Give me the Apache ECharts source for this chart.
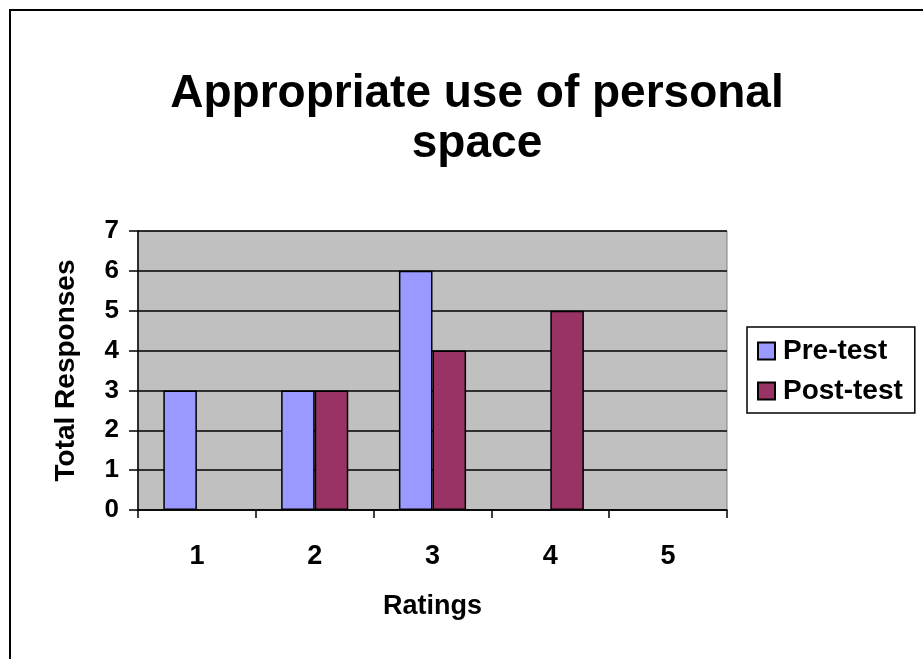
<!DOCTYPE html>
<html>
<head>
<meta charset="utf-8">
<script src="https://cdn.jsdelivr.net/npm/echarts@6/dist/echarts.min.js"></script>
<style>
html,body{margin:0;padding:0;background:#fff;}
#chart{width:923px;height:659px;}
</style>
</head>
<body>
<div id="chart"></div>
<script>
var categories = ['1', '2', '3', '4', '5'];
var preTest = [3, 3, 6, null, null];
var postTest = [null, 3, 4, 5, null];
var yTicks = [0, 1, 2, 3, 4, 5, 6, 7];

var FONT = '"Liberation Sans", Arial, sans-serif';
var chart = echarts.init(document.getElementById('chart'));
chart.setOption({
  animation: false,
  backgroundColor: '#ffffff',
  title: {
    text: 'Appropriate use of personal\nspace',
    left: 472,
    top: 64,
    textAlign: 'center',
    textStyle: {fontFamily: FONT, fontWeight: 'bold', fontSize: 46, lineHeight: 50, color: '#000'}
  },
  graphic: [{
    type: 'rect',
    shape: {x: 10, y: 10, width: 1000, height: 1000},
    style: {fill: 'none', stroke: '#000', lineWidth: 2},
    silent: true
  }],
  legend: {
    orient: 'vertical',
    left: 747,
    top: 327,
    padding: [10, 12, 8, 10],
    borderColor: '#000',
    borderWidth: 1.5,
    itemWidth: 17,
    itemHeight: 17,
    itemGap: 12,
    icon: 'rect',
    textStyle: {fontFamily: FONT, fontWeight: 'bold', fontSize: 28, lineHeight: 28, color: '#000', padding: [0, 0, 0, 3]},
    data: ['Pre-test', 'Post-test']
  },
  grid: {left: 138, top: 231, right: 196, bottom: 149, show: true, backgroundColor: '#C0C0C0', borderColor: '#808080', borderWidth: 1},
  xAxis: {
    type: 'category',
    data: categories,
    name: 'Ratings',
    nameLocation: 'middle',
    nameGap: 83,
    nameTextStyle: {fontFamily: FONT, fontWeight: 'bold', fontSize: 27, color: '#000'},
    axisLine: {lineStyle: {color: '#000', width: 1.5}},
    axisTick: {show: true, length: 8, lineStyle: {color: '#000', width: 1.5}},
    axisLabel: {margin: 33, fontFamily: FONT, fontWeight: 'bold', fontSize: 27, color: '#000'}
  },
  yAxis: {
    type: 'value',
    min: 0,
    max: 7,
    interval: 1,
    name: 'Total Responses',
    nameLocation: 'middle',
    nameGap: 58,
    nameTextStyle: {fontFamily: FONT, fontWeight: 'bold', fontSize: 28, color: '#000'},
    axisLine: {show: true, lineStyle: {color: '#000', width: 1.5}},
    axisTick: {show: true, length: 9, lineStyle: {color: '#000', width: 1.5}},
    axisLabel: {margin: 19, fontFamily: FONT, fontWeight: 'bold', fontSize: 26, color: '#000',
      formatter: function (v) { return yTicks.indexOf(v) >= 0 ? String(v) : ''; }},
    splitLine: {show: true, lineStyle: {color: '#000', width: 1.5}}
  },
  series: [
    {name: 'Pre-test', type: 'bar', data: preTest, barGap: '0%', barCategoryGap: '43%',
      itemStyle: {color: '#9999FF', borderColor: '#000', borderWidth: 1.5}},
    {name: 'Post-test', type: 'bar', data: postTest, barGap: '0%', barCategoryGap: '43%',
      itemStyle: {color: '#993366', borderColor: '#000', borderWidth: 1.5}}
  ]
});
</script>
</body>
</html>
